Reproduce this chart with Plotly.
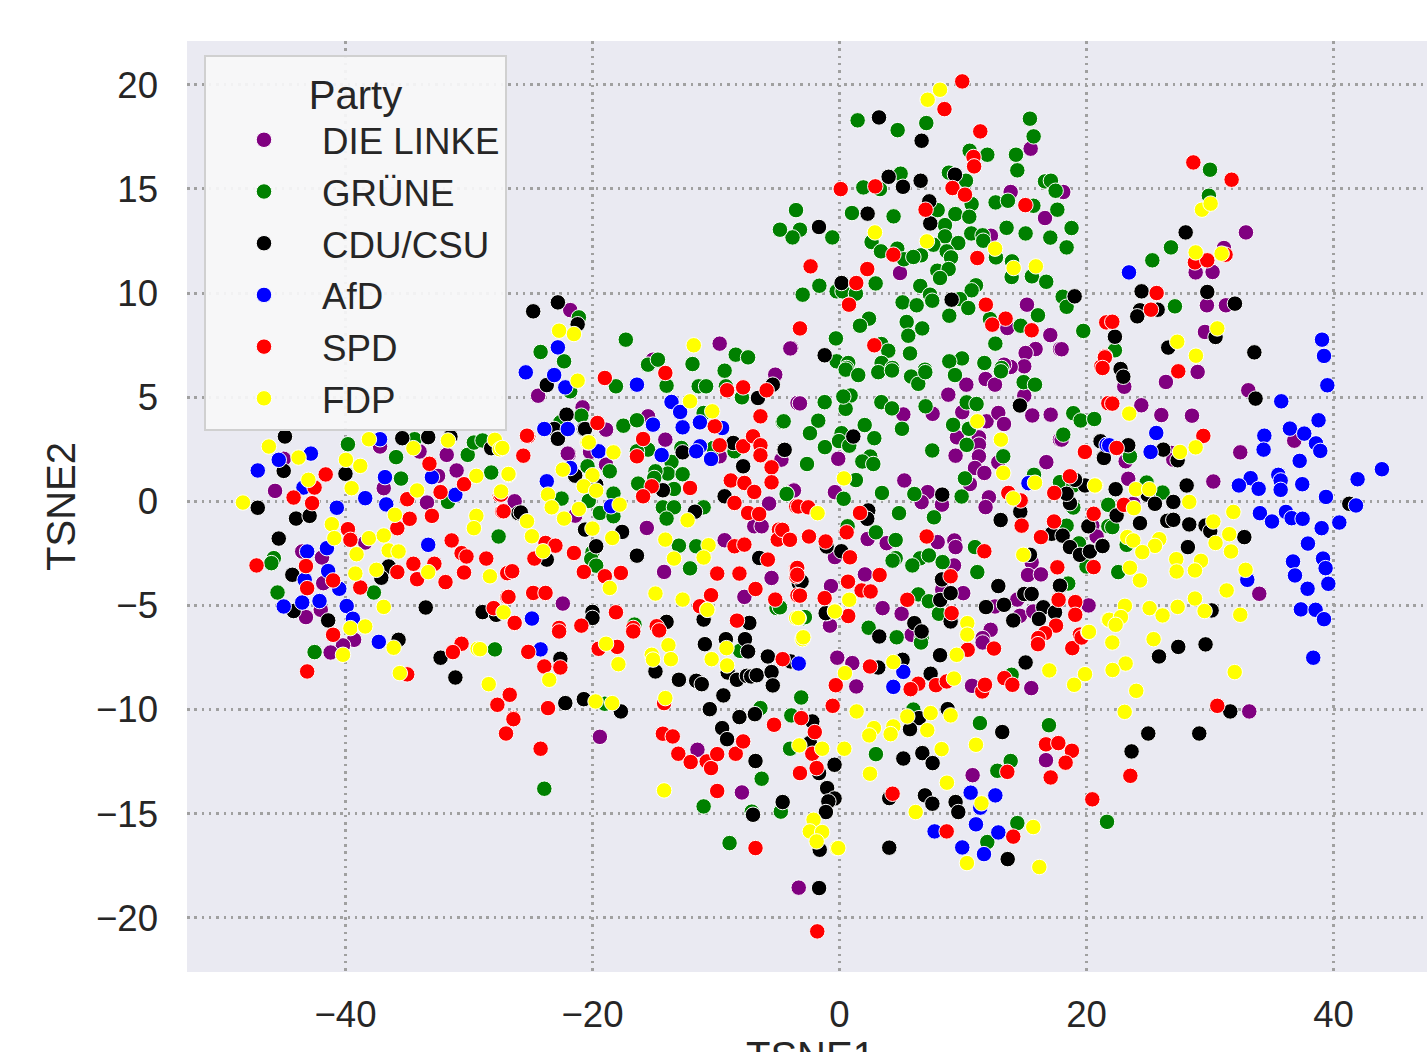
import plotly.graph_objects as go

DIE_LINKE = [(-45,2.04),(-37.2,2.63),(-34,2.39),(-31.8,2.23),(-31,1.48),(-32.5,1.22),(-45.7,0.5),(-36.9,0.63),(-33.4,-0.06),(-26.3,-0.01),
(-43.5,-2.41),(-41.9,-2.7),(-41.8,-3.93),(-42,-5.21),(-43.2,-5.56),(-39.3,-6.65),(-40.2,-6.92),(-41.2,-7.26),(-38.4,-1.98),
(-21.8,9.18),(-24.4,5.07),(-20.8,4.51),(-21.9,2.27),
(-9.7,7.57),(-3.9,7.36),(-15.1,6.8),(-5.2,6.08),(-3.4,4.72),(-15.5,4.08),(-18.9,3.44),(-14.1,2.96),(-22,2.29),(-20.2,2.37),(-18.9,1.76),(-9.7,2.16),(-4.7,2),(-26.3,0),(-3.7,0.56),(-5.7,-0.11),(-21.4,-0.69),(-6.9,-1.2),(-6.3,-1.2),(-15.6,-1.28),(-9.3,-1.87),(-14.2,-3.39),(-5.5,-3.68),(-7.7,-4.59),(-22.4,-4.91),
(-0.8,-5.98),(-0.2,-7.5),(-19.4,-11.31),(-11.5,-11.93),(-7.9,-13.98),(-3.3,-18.55),
(15.48,16.93),(13.86,14.85),(18.12,14.85),(16.64,13.6),(12.26,12.75),(4.9,10.96),(15.18,9.44),(13.59,8.32),(17.07,7.98),(-3.98,7.34),(17.85,7.31),(15.88,7.31),(15.07,7.12),(14.96,6.48),(13.86,6.45),(13.32,6.56),
(-3.2,4.7),(-0.1,2.04),(8.81,5.12),(10.27,5.6),(11.83,5.87),(12.59,5.6),(14.96,5.07),(5.17,4.17),(7.54,4.2),(9.94,4.28),(11.91,3.84),(12.86,4.24),(13.32,3.71),(15.61,4.12),(17.1,4.16),(17.85,2.96),(9.51,3.07),(11.29,3.07),(11.29,2.72),(9.4,2.19),(11.29,2.16),(12.86,1.87),(10.97,1.6),(11.73,1.36),(10.56,0.83),(16.75,1.88),(5.25,1),(-3.69,0.52),(-0.37,0.44),(7.14,0.44),(6.65,-0.04),(8.3,-0.16),(12.1,0.19),(11.83,-0.28),(2.28,-1.81),(3.82,-2.01),(7.95,-1.96),(9.3,-1.88),(9.4,-2.2),(20.47,-1.17),(20.82,-1.69),(-0.37,-2.68),(2.06,-3.51),(9.27,-3.08),(15.56,-2.93),(15.26,-3.54),(16.31,-3.51),(-0.69,-4.07),(10.02,-4.41),(8.32,-4.25),(3.49,-5.13),(5.03,-5.4),(12.59,-5.05),(14.4,-4.72),(14.61,-5.5),(15.69,-5.29),(20.17,-5),(-0.77,-5.97),(12.24,-6.17),(5.84,-6.41),(11.59,-6.57),
(11.59,-6.78),(-0.18,-7.51),(1.04,-7.77),(1.36,-8.89),(10.73,-8.86),(15.53,-8.97),(16.72,-12.43),(10.78,-13.15),
(32.91,12.91),(31.13,12.16),(28.84,10.99),(30.21,11.01),(29.75,9.41),(31.29,9.41),(29.59,8.13),(26.43,5.73),(29,6.21),(23.06,5.5),(33.1,5.33),(24.44,4.61),(26.06,4.14),(28.54,4.11),(36.82,2.91),(32.45,2.35),(23.17,1.92),(26.89,2.32),(27.03,2),(17.99,2.96),(17.99,7.3),
(30.27,0.95),(23.38,1.08),(23.79,-0.12),(33.99,-4.44),(33.18,-10.09)]

GRUENE = [(-39.8,2.74),(-35.9,2.12),(-35.5,1.09),(-34.4,2.98),(-30.1,2.23),(-29.6,2.82),(-28.9,2.92),(-28.2,1.38),(-31.7,-0.03),(-27.6,-1.69),(-45.8,-2.73),(-46,-2.97),(-45.5,-4.38),(-37.7,-4.38),(-42.5,-7.24),(-27.9,-7.11),
(-21.1,8.83),(-24.2,7.17),(-22.3,6.72),(-21.8,5.28),(-20.9,4.11),(-22.6,3.79),
(-17.3,7.76),(-8.4,7.04),(-7.4,6.91),(-11.9,6.59),(-15.5,6.56),(-14.7,6.8),(-9.3,6.27),(-18.1,5.52),(-14,5.55),(-11.4,5.52),(-10.8,5.52),(-9.2,5.52),(-7.9,4.99),(-11,4.24),(-4.6,3.81),(-17.5,3.63),(-16.4,3.89),(-15.5,2.48),(-16.4,2.4),(-8.5,2.4),(-12.8,2.56),(-10.2,2.56),(-13.6,1.89),(-20.4,1.68),(-18.6,1.44),(-13.9,1.33),(-12.7,1.3),(-14.9,1.44),(-15,1.12),(-16.3,0.85),(-13.4,0.59),(-20.3,0.64),(-22.5,0.13),(-18.3,0.37),(-20.3,0.02),(-4.3,0.37),(-14.3,-0.29),(-13.4,-0.29),(-11,-0.29),(-14,-0.83),(-19.4,-0.56),(-18.3,-0.72),(-13,-2.13),(-11.6,-2.16),(-20,-2.45),(-20.1,-2.77),(-19.7,-3.09),(-12.1,-3.22),(-5.1,-5.12),(-16.6,-5.92),
(-8.05,-7.18),(-6.4,-9.93),(-19,-9.72),(-3.9,-10.28),(-3.1,-9.42),(-2.9,-5.61),(-4,-11.88),(-6.3,-13.32),(-11,-14.65),(-23.9,-13.8),(-7.1,-14.9),(-4.75,-14.9),(-8.9,-16.41),
(1.47,18.29),(4.71,17.82),(7.03,18.16),(15.42,18.37),(15.72,17.52),(11.97,16.64),(14.29,16.64),(10.54,16.83),(14.4,15.89),(4.95,15.73),(8.86,15.78),(10.24,15.39),(16.64,15.36),(17.12,15.39),(1.93,15.07),(3.28,14.99),(17.5,14.91),(10.7,14.27),(12.64,14.35),(13.64,14.43),(15.7,14.19),(17.64,14),(-3.52,13.98),(1.01,13.84),(4.38,13.68),(7.95,13.98),(9.38,13.79),(10.51,13.66),(8.54,13.26),(-3.2,13.04),(-3.8,12.67),(-0.58,12.67),(-4.82,13.04),(13.53,13.13),(18.77,13.13),(10.67,12.86),(15.07,12.86),(8.54,12.72),(11.59,12.77),(17.07,12.66),(9.62,12.4),(11.64,12.51),(2.6,12.45),(18.42,12.19),(3.36,12),(7.6,12.32),(4.68,12.13),(8.68,12),(5.22,11.62),(6.6,11.81),(5.98,11.73),(9.03,11.71),(12.67,11.71),(13.97,11.52),(7.92,11.07),(8.84,11.15),(8.14,10.72),(13.94,10.77),(15.58,10.8),(16.74,10.54),(2.93,10.46),(-1.63,10.35),(-0.23,10.08),(0.25,10.08),(1.33,9.97),(-2.98,9.92),(6.54,10.34),(11.05,10.37),(10.7,10.13),(7.33,9.92),(7.51,9.63),(5.11,9.55),(6.25,9.41),(9.75,9.71),(18.07,9.82),(18.39,9.34),(10.43,9.28),(8.89,8.91),(16.07,8.93),(5.44,8.61),(2.39,8.77),(1.66,8.43),(12.18,8.75),(14.67,8.43),(6.7,8.3),(5.57,7.95),(19.74,8.16),(-0.29,7.82),(3.39,7.55),(3.95,7.23),(5.71,7.1),(12.62,7.57),(9.92,6.86),(8.89,6.72),(11.73,6.64),(-0.23,6.72),(0.71,6.64),(3.41,6.64),(4.28,6.4),(0.58,6.4),(6.92,6.32),(13.13,6.4),
(0.5,6.32),(1.52,6.06),(3.14,6.2),(4.25,6.28),(5.8,5.99),(6.38,5.64),(6.95,6.2),(9.35,6.06),(13.07,6.24),(14.91,5.72),(15.83,5.6),
(-1.2,4.76),(0.9,5.08),(0.5,4.44),(0.31,5.03),(3.39,4.76),(4.25,4.46),(6.97,4.56),(10.3,4.75),(11.1,4.67),(9.2,3.67),(10.48,3.48),(10.3,2.71),(-4.52,3.84),(-1.72,3.87),(-2.39,3.27),(-1.18,2.6),(0.17,3.27),(-0.04,2.89),(0.79,2.67),(2.04,3.66),(2.82,3.03),(5.06,3.48),(7.51,2.44),(2.49,2.15),(1.85,1.91),(2.74,1.79),(-2.63,1.79),(13.26,2.16),(1.33,1.02),(10.16,1.1),(-4.28,0.35),(0.34,0.12),(3.44,0.4),(6.06,0.35),(9.89,0.23),(4.82,-0.57),(7.65,-0.77),(18.12,3.2),(18.93,4.23),(19.53,3.88),(20.63,3.95),(15.75,1.27),(17.85,0.92),(18.93,0.76),(21.8,-0.16),(18.39,-1.17),(21.77,-1.2),(19.39,-2.02),(0.66,-1.2),(2.95,-1.49),(4.55,-1.86),(4.55,-2.73),(4.3,-2.85),(6.52,-2.74),(7.24,-2.6),(5.9,-3.08),(8.35,-2.92),(10.97,-2.2),(11.16,-3.4),(18.47,-3.93),(6.38,-4.47),(7.24,-4.8),(8.05,-5.4),(2.36,-6.07),(4.63,-6.53),(6.65,-6.57),(-4.82,-5.09),(-2.8,-5.56),(20,-3.13),
(6.6,-6.78),(13.94,-8.33),(5.98,-10),(11.37,-10.65),(16.96,-10.75),(2.95,-12.14),(12.78,-12.94),(13.86,-12.47),(14.4,-15.45),(11.97,-16.36),(21.66,-15.39),
(30,15.92),(29.91,14.67),(18.79,13.12),(18.39,12.19),(26.84,12.19),(25.33,11.57),(27.16,9.36),(19.74,8.18),(22.3,7.25),(23.52,2.16),(24.87,0.9),(26.16,0.42),(21.76,-0.17),(22.09,-1.24),(23.25,-2.09),(22.57,-3.4),(18.52,-3.95),(18.93,-0.3)]

CDU_CSU = [(-45,1.46),(-40,1.32),(-47.1,-0.31),(-44,-0.83),(-42.9,-0.7),(-45.4,-1.79),(-36.5,-3.13),(-37.1,-3.67),(-44.3,-3.53),(-44.2,-5.27),(-41.4,-5.72),(-33.5,-5.1),(-28.9,-5.32),(-27.8,-5.45),(-35.7,-6.65),(-32.3,-7.51),(-31.1,-8.46),(-26,-0.57),(-35.4,3.03),(-33.3,3.08),(-28.2,2.55),(-44.9,3.11),(-31.5,3.1),
(-22.8,9.55),(-24.8,9.12),(-21.2,8.5),(-23.7,5.58),(-22.1,4.16),(-23.1,3.47),(-22.8,3.02),(-20.7,3.47),
(-5.4,5.6),(-6.6,4.96),(-20.6,3.47),(-22.8,3),(-8.6,2.8),(-12.7,2.35),(-4.5,2.48),(-7.8,1.68),(-21.4,1.23),(-19.7,0.8),(-14.3,0.53),(-9.3,0.24),(-11.7,-0.5),(-25.8,-0.54),(-20.6,-1.36),(-17.6,-1.47),(-19.7,-2.16),(-16.4,-2.61),(-23.7,-2.8),(-6.5,-2.72),(-3.3,-3.92),(-20,-5.31),(-20,-5.6),(-14,-5.79),(-11,-5.68),(-7.3,-5.84),
(-10.9,-6.86),(-9.2,-6.62),(-7.65,-6.62),(-7.4,-7.21),(-5.8,-7.45),(-3.95,-7.69),(-22.6,-7.56),(-14.9,-8.17),(-13,-8.57),(-11.6,-8.62),(-11.15,-8.78),(-9.05,-8.22),(-8.3,-8.57),(-7.5,-8.38),(-7.15,-8.41),(-6.7,-8.35),(-5.5,-8.2),(-5.4,-8.84),(-9.4,-9.32),(-10.5,-9.98),(-22.2,-9.69),(-20.7,-9.5),(-17.7,-10.09),(-8.1,-10.36),(-6.85,-10.22),(-9.5,-10.89),(-9.1,-11.42),(-6.8,-12.47),(-2.2,-10.57),(-2.4,-11.61),(-1.65,-13.05),(-0.4,-12.65),(-1,-13.77),(-0.4,-14.27),(-0.9,-14.41),(-1.1,-14.92),(-4.6,-14.44),(-7,-15.05),(-1.6,-16.73),(-1.65,-18.57),(-1,-5.37),
(3.2,18.43),(6.65,17.31),(3.98,15.58),(5.14,15.1),(6.57,15.39),(9.35,15.68),(7.27,14.4),(2.28,13.81),(7.35,13.34),(-1.66,13.17),(0.17,10.48),(19.07,9.84),(9.08,9.68),(-1.2,7.01),
(1.12,3.11),(14.61,4.6),(-4.44,2.47),(2.33,-0.44),(2.25,-0.84),(8.32,0.32),(18.66,-0.09),(19.88,0.76),(19.07,1.03),(14.64,-0.5),(13.05,-0.9),(17.18,-1.56),(18.07,-1.65),(18.66,-2.2),(19.47,-2.57),(20.28,-2.41),(21.28,-2.13),(15.42,-2.57),(0.15,-2.4),(-1.04,-2.17),(-3.07,-3.85),(8.3,-3.75),(12.86,-4.07),(14.96,-4.45),(15.56,-4.45),(17.85,-4.05),(8.16,-4.74),(9,-4.41),(11.86,-5.08),(13.32,-4.97),(16.5,-5.09),(17.45,-5.33),(14.07,-5.72),(16.15,-5.65),(-1.12,-5.37),(6.06,-5.85),(9,-5.77),(3.22,-6.49),(6.65,-6.25),(21.09,2.89),(21.36,2.11),(18.39,0.36),(20.15,-1.2),
(8.14,-7.39),(15.07,-7.74),(3.14,-7.98),(5.11,-7.61),(7.38,-8.28),(8.76,-9.98),(6.44,-10.41),(5.71,-10.94),(13.18,-11.08),(5.17,-12.35),(6.71,-12.09),(7.54,-12.57),(4.03,-14.25),(6.92,-14.12),(7.52,-14.52),(9.4,-14.44),(9.62,-14.92),(4.03,-16.63),(13.62,-17.18),
(28.03,12.91),(24.46,10.08),(29.78,10.05),(24.33,9.17),(24.11,8.88),(25.76,9.2),(32.02,9.49),(19.04,9.84),(22.3,7.9),(26.62,7.38),(30.45,7.89),(33.59,7.15),(22.76,6.35),(22.98,5.98),(33.69,4.93),(21.14,2.88),(21.41,2.08),(23.38,2.69),(26.22,2.48),(27.38,1.97),
(22.36,0.58),(24.95,0.31),(25.54,-0.12),(27.03,-0.03),(28.11,0.76),(22.44,-0.68),(24.33,-1.05),(26.54,-0.94),(27.03,-0.89),(28.32,-1.11),(29.64,-1.16),(30.02,-1.43),(32.78,-1.72),(28.21,-2.2),(21.3,-2.15),(41.28,-0.12),(30.13,-5.24),(25.87,-7.45),(27.43,-6.99),(29.64,-6.87),(31.64,-10.09),(25,-11.15),(29.13,-11.15),(23.65,-12.01)]

AFD = [(-42.8,2.29),(-45.4,1.99),(-47.1,1.48),(-37.2,2.98),(-36.8,1.16),(-33,1.16),(-43.4,0.66),(-38.4,0.15),(-36.7,-0.15),(-40.7,-0.31),(-31.1,0.31),(-33.3,-2.09),(-41.5,-2.25),(-43.1,-2.41),(-41.4,-3.35),(-43.3,-3.77),(-40.5,-4.2),(-43.5,-4.86),(-45,-5.05),(-42.1,-4.79),(-39.9,-5.03),(-39.4,-5.64),(-37.3,-6.75),
(-22.8,7.39),(-25.4,6.19),(-23.1,6.06),(-22.2,5.47),(-23.9,3.47),(-22,3.47),
(-16.4,5.6),(-13.6,4.77),(-12.9,4.29),(-15.1,3.68),(-12.7,3.55),(-11.3,3.79),(-9.5,3.52),(-19.5,2.4),(-14.4,2.22),(-11.3,2.64),(-11.6,2.4),(-10.4,2.03),(-23.7,0.96),(-21.8,1.6),(-18.5,-0.24),(-24.9,-5.63),
(-24.2,-7.11),(-3.3,-7.79),(21.63,2.71),(15.3,0.87),
(5.17,-8.19),(4.36,-8.91),(7.7,-15.85),(10.62,-13.99),(12.62,-14.12),(11.4,-14.71),(11.05,-15.51),(12.86,-15.9),(9.94,-16.62),(11.7,-16.94),
(23.44,10.99),(39.07,7.76),(39.23,6.98),(39.5,5.57),(35.77,4.8),(38.79,3.89),(36.47,3.49),(37.63,3.25),(34.4,3.15),(34.34,2.48),(38.58,2.78),(38.93,2.42),(37.26,1.94),(21.84,2.69),(25.65,3.28),(25.19,2.37),(43.92,1.54),
(33.29,1.11),(32.34,0.76),(33.94,0.6),(35.53,1.27),(35.72,1),(35.72,0.55),(37.47,0.82),(39.39,0.21),(41.95,1.06),(34.04,-0.57),(35.02,-0.97),(36.15,-0.51),(36.61,-0.81),(37.5,-0.84),(39.04,-1.29),(40.47,-1.02),(41.82,-0.2),(37.93,-2.03),(36.72,-2.89),(39.15,-2.75),(39.36,-3.21),(36.88,-3.56),(39.58,-3.96),(37.9,-4.2),(33.02,-3.77),(37.36,-5.19),(38.55,-5.21),(39.23,-5.66),(38.36,-7.51)]

SPD = [(-41.6,1.29),(-33.2,1.8),(-42.5,0.66),(-30.4,0.82),(-44.2,0.18),(-32.3,0.44),(-35,0.1),(-42.7,-0.09),(-27.5,0.29),(-27.3,-0.49),(-33,-0.7),(-34.8,-0.84),(-35.8,-1.29),(-39.8,-1.34),(-39.6,-1.85),(-31.4,-1.88),(-30.6,-2.49),(-30.2,-2.65),(-28.6,-2.75),(-47.2,-3.08),(-43.2,-3.11),(-34.5,-3),(-32.8,-3),(-35.8,-3.4),(-30.4,-3.42),(-26.5,-3.37),(-26.9,-3.45),(-41,-3.8),(-34.2,-3.74),(-31.9,-3.88),(-43.1,-4.17),(-38.8,-4.14),(-26.9,-4.6),(-28,-5.13),(-26.3,-5.85),(-41,-6.41),(-30.6,-6.84),(-31.3,-7.24),(-43.1,-8.17),(-35,-8.31),(-26.7,-9.29),(-27.7,-9.77),(-26.4,-10.4),
(-25.2,3.12),(-25.6,2.19),
(-19,5.92),(-14.1,6.16),(-9.1,5.33),(-7.8,5.47),(-5.9,5.33),(-6.4,4.08),(-19.6,3.76),(-25.3,3.15),(-15.9,2.99),(-10.1,3.6),(-16.4,2.16),(-9.7,2.69),(-7.8,2.64),(-7,3.12),(-6.4,2.69),(-6.4,2.21),(-5.5,1.63),(-8.8,1),(-7.7,0.88),(-5.5,0.91),(-12.1,0.64),(-15.2,0.72),(-15.9,0.24),(-6.9,0.45),(-27.4,0.32),(-27.2,-0.48),(-8.5,-0.08),(-7.4,-0.56),(-6.5,-0.61),(-3.5,-0.24),(-4.9,-1.36),(-5,-1.84),(-4,-1.84),(-23.8,-2),(-23,-2.13),(-21.5,-2.48),(-24.7,-2.75),(-8.5,-2.16),(-7.7,-2.08),(-5.8,-2.8),(-20.7,-3.39),(-26.5,-3.36),(-19,-3.6),(-17.7,-3.44),(-9.9,-3.47),(-8.1,-3.47),(-3.5,-3.23),(-3.5,-3.6),(-6.8,-4.21),(-24.8,-4.4),(-23.8,-4.4),(-26.8,-4.59),(-10.4,-4.51),(-11.3,-5.04),(-3.4,-4.51),(-5.2,-4.72),(-18.1,-5.33),(-26.3,-5.84),(-22.7,-6.08),(-20.9,-5.97),(-8.3,-5.73),(-16.7,-6.08),(-14.8,-6),
(-22.7,-6.25),(-23.9,-7.93),(-22.6,-7.98),(-25.2,-7.23),(-16.7,-6.25),(-14.6,-6.2),(-19.5,-7.08),(-18,-6.99),(-23.6,-9.93),(-26.4,-10.46),(-27,-11.15),(-24.2,-11.88),(-14.2,-9.69),(-14.3,-11.16),(-13.5,-11.29),(-13.05,-12.12),(-12.05,-12.52),(-10.75,-12.49),(-10.4,-12.81),(-9.9,-12.14),(-8.4,-12.12),(-7.8,-11.53),(-9.9,-13.91),(-5.3,-10.73),(-4.6,-7.58),(-3.1,-10.41),(-2,-11.08),(-2.2,-12.12),(-3.2,-13.05),(-1.85,-12.81),(-0.3,-8.83),(-0.55,-9.82),(-6.8,-16.65),(-1.8,-20.65),
(9.94,20.16),(8.5,18.83),(11.4,17.76),(10.85,16.53),(10.9,16.08),(0.1,14.99),(2.9,15.12),(9.15,15.04),(10.16,14.72),(15.05,14.22),(6.97,14),(-2.34,11.28),(2.25,11.15),(1.36,10.48),(11.16,11.68),(0.77,9.44),(11.85,9.44),(4.36,11.84),(13.45,8.77),(12.37,8.48),(15.56,8.21),(-3.2,8.3),(2.82,7.49),(21.6,8.59),(21.5,6.96),(21.2,6.48),
(-3.34,-0.25),(-2.53,-0.29),(1.66,-0.56),(0.58,-1.49),(-4.63,-1.37),(-4.01,-1.85),(-2.47,-1.69),(-1.12,-1.93),(0.85,-2.69),(7.06,-1.69),(11.73,-2.4),(13.67,0.4),(14.67,0.04),(14.75,-1.17),(17.39,0.4),(18.66,1.2),(19.88,2.36),(20.58,-0.6),(17.37,-0.97),(16.31,-1.72),(17.64,-3.17),(20.58,-3.16),(-3.42,-3.2),(-3.42,-3.53),(3.25,-3.54),(0.69,-3.86),(1.79,-4.28),(2.52,-4.33),(-3.2,-4.53),(-1.2,-4.65),(5.49,-4.73),(0.71,-5.51),(9,-3.6),(9.08,-5.37),(17.74,-4.73),(19.09,-4.84),(19.09,-5.45),(17.53,-5.97),(16.64,-6.33),(19.47,-6.4),(16.1,-6.57),(21.77,4.71),
(10.38,-7.13),(12.51,-7.07),(16.07,-6.86),(18.85,-7.05),(19.6,-6.54),(2.47,-7.93),(6.38,-8.76),(5.76,-9.02),(7.81,-8.83),(8.68,-8.65),(11.56,-9.13),(11.78,-8.81),(13.35,-8.49),(14,-8.81),(8.68,-15.85),(14.07,-16.1),(13.59,-12.99),(16.72,-11.67),(17.72,-11.61),(18.82,-11.98),(18.31,-12.55),(17.1,-13.26),(20.47,-14.31),(4.3,-14.04),
(28.65,16.27),(31.75,15.44),(28.78,11.47),(29.78,11.57),(31.26,11.84),(25.68,10),(25.22,9.2),(22.09,8.62),(21.49,6.91),(21.3,6.4),(27.43,6.24),(22.09,4.69),(19.87,2.37),(29.46,3.14),(22.44,2.56),
(23.03,-0.17),(30.59,-9.82),(23.55,-13.18)]

FDP = [(-46.2,2.63),(-43.8,2.1),(-39.96,1.99),(-38.8,1.7),(-43,1.03),(-39.5,0.63),(-34.2,0.52),(-48.3,-0.06),(-36,-0.65),(-29.4,-0.7),(-29.6,-1.29),(-41.1,-1.1),(-40.9,-1.77),(-38.1,-1.77),(-36.9,-1.64),(-36.5,-2.36),(-35.7,-2.41),(-39.1,-2.54),(-39.2,-3.47),(-37.5,-3.29),(-33.3,-3.4),(-28.3,-3.6),(-36.9,-5.07),(-39.6,-6.09),(-38.4,-6.01),(-36.1,-7.03),(-40.2,-7.37),(-35.6,-8.25),(-29.3,-7.08),(-28.4,-8.78),(-38.1,2.98),(-34.5,2.55),(-31.7,2.92),(-27.9,2.95),(-27.5,2.5),(-29.4,1.22),(-26.8,1.27),(-27.4,0.47),
(-22.7,8.19),(-21.5,8.03),(-21.2,5.79),(-20.4,2.83),
(-11.8,7.49),(-12.1,4.8),(-10.3,4.32),(-20.3,2.83),(-18.3,2.35),(-27.3,2.56),(-26.8,1.31),(-22.4,1.52),(-20,1.25),(-20.7,0.72),(-23.6,0.32),(-19.7,0.51),(-23.3,-0.29),(-21.1,-0.37),(-17.8,-0.16),(-22.3,-0.83),(-25.3,-0.96),(-20,-1.31),(-24.9,-1.68),(-18.4,-1.76),(-12.3,-0.91),(-14.1,-1.84),(-10.6,-2.11),(-11,-2.7),(-13.4,-2.75),(-24,-2.4),(-18.6,-4.16),(-14.9,-4.43),(-12.7,-4.72),(-10.7,-5.2),(-3.5,-5.6),(-27.2,-5.33),
(-23.5,-8.57),(-29.1,-7.1),(-18.9,-6.84),(-17.9,-7.82),(-15.2,-7.37),(-13.85,-6.91),(-13.65,-7.58),(-15.1,-7.6),(-9.15,-7.05),(-10.35,-7.58),(-9.1,-7.88),(-19.75,-9.61),(-18.4,-9.69),(-14.1,-9.45),(-3.3,-5.61),(-3,-6.62),(-0.35,-5.26),(-10.7,-5.21),(-3.25,-11.72),(-1.4,-11.88),(-14.2,-13.88),(-2.1,-15.29),(-2.4,-15.85),(-1.4,-15.88),(-1.85,-16.33),(-0.2,-16.65),
(8.14,19.76),(7.14,19.28),(2.87,12.91),(7.08,12.48),(12.6,12.13),(14.1,11.2),(15.9,11.28),
(11.16,3.84),(13.07,2.96),(13.26,1.36),(15.83,0.89),(0.36,1.1),(20.74,0.76),(14.07,0.14),(-1.77,-0.57),(0.79,-4.73),(-0.37,-5.29),(-3.34,-5.6),(-2.93,-6.53),(10.35,-5.85),(10.35,-6.4),(14.88,-2.57),(20.15,-6.28),(21.77,-5.69),
(9.49,-7.37),(0.44,-8.25),(4.36,-7.72),(9.27,-8.51),(16.99,-8.12),(19.88,-8.3),(19,-8.81),(20.2,-6.27),(1.39,-10.09),(5.49,-10.33),(7.38,-10.17),(9,-10.28),(2.79,-10.89),(2.41,-11.24),(4.36,-10.81),(4.14,-11.18),(7.11,-10.99),(0.39,-11.88),(8.27,-11.9),(11.05,-11.69),(2.47,-13.08),(8.7,-13.51),(6.17,-14.92),(15.69,-15.64),(11.5,-14.5),(-0.1,-16.65),(10.32,-17.37),(16.18,-17.56),
(29.35,14),(30.05,14.29),(28.84,11.95),(30.94,11.89),(27.35,7.66),(28.86,6.99),(30.59,8.3),(23.46,4.21),(28.84,2.59),(27.57,2.37),
(20.68,0.76),(24,0.58),(25.08,0.58),(28.32,-0.03),(31.89,-0.51),(23.84,-0.33),(30.27,-0.97),(31.56,-1.58),(30.45,-2),(31.7,-2.41),(23.3,-1.72),(23.79,-1.88),(25.89,-1.82),(25.54,-2.14),(24.52,-2.44),(27.27,-2.78),(29.27,-2.86),(28.78,-3.32),(27.3,-3.37),(23.52,-3.19),(24.33,-3.8),(32.88,-3.29),(31.35,-4.28),(23.11,-5.02),(25.11,-5.13),(26.16,-5.48),(27.38,-5.07),(28.78,-4.67),(29.56,-5.27),(32.45,-5.45),(21.84,-5.69),(22.79,-5.56),(22.36,-5.93),(22.09,-6.78),(25.43,-6.62),(23.17,-7.79),(22.11,-8.1),(24.03,-9.1),(32,-8.2),(23.09,-10.11)]

PARTIES = ["DIE LINKE", "GRÜNE", "CDU/CSU", "AfD", "SPD", "FDP"]
SERIES = [DIE_LINKE, GRUENE, CDU_CSU, AFD, SPD, FDP]
COLORS = ["purple", "green", "black", "blue", "red", "yellow"]
X_TICKS = [-40, -20, 0, 20, 40]
Y_TICKS = [-20, -15, -10, -5, 0, 5, 10, 15, 20]
FONT = "Liberation Sans, Arial, sans-serif"
INK = "#262626"

fig = go.Figure()
for name, pts, col in zip(PARTIES, SERIES, COLORS):
    fig.add_trace(go.Scatter(
        x=[p[0] for p in pts], y=[p[1] for p in pts], mode="markers", name=name, legendgroup=name,
        marker=dict(color=col, size=15.5, line=dict(color="white", width=1)),
    ))

axis = dict(showgrid=True, gridcolor="#a0a0a0", griddash="2.5px,4.8px", gridwidth=2.5, zeroline=False,
            showline=False, ticks="", tickfont=dict(size=36.6, color=INK), automargin=False)
fig.update_layout(
    width=1427, height=1052,
    margin=dict(l=187, r=0, t=41, b=80),
    plot_bgcolor="#EAEAF2", paper_bgcolor="white",
    font=dict(family=FONT, color=INK),
    xaxis=dict(axis, range=[-52.83, 47.57], tickvals=X_TICKS, ticktext=[str(t).replace("-", "−") for t in X_TICKS],
               ticklabelstandoff=17),
    yaxis=dict(axis, range=[-22.6, 22.1], tickvals=Y_TICKS, ticktext=[str(t).replace("-", "−") for t in Y_TICKS],
               ticklabelstandoff=28,
               title=dict(text="TSNE2", font=dict(size=40, color=INK), standoff=7)),
    legend=dict(
        x=0.0137, y=0.9845, xanchor="left", yanchor="top",
        bgcolor="rgba(247,247,248,0.92)", bordercolor="#d0d0d0", borderwidth=2,
        font=dict(size=36.7, color=INK), itemwidth=106, entrywidth=201, entrywidthmode="pixels",
        tracegroupgap=1,
        title=dict(text="Party", side="top center", font=dict(size=40, color=INK)),
    ),
    annotations=[dict(text="TSNE1", xref="paper", yref="paper", x=0.503, y=-0.0644,
                      xanchor="center", yanchor="top", showarrow=False,
                      font=dict(size=40, color=INK))],
)
fig.write_html("out.html", post_script="document.body.style.margin='0';", config={"displayModeBar": False})
